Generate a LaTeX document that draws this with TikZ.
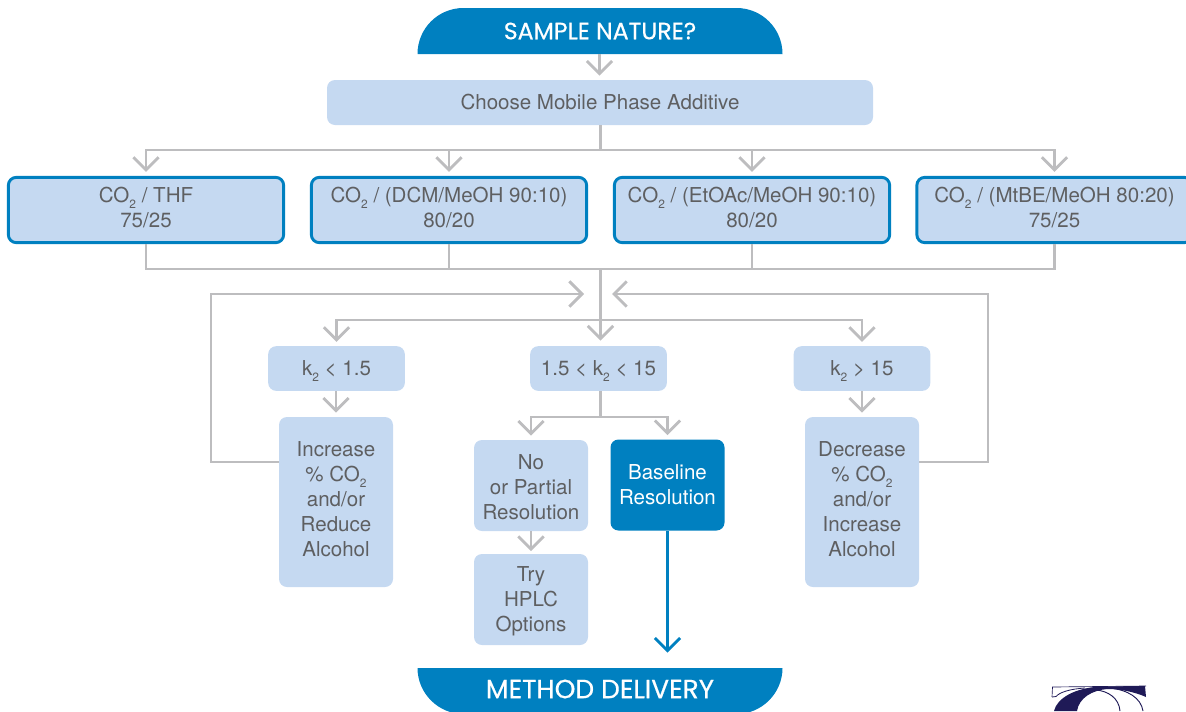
\documentclass[tikz,border=0pt]{standalone}
\usepackage{fontspec}
\setmainfont{TeX Gyre Heros}
\newfontfamily\capfont[FakeBold=0.5]{Poppins}
\usetikzlibrary{arrows.meta,calc}
\definecolor{pale}{HTML}{C5D9F1}
\definecolor{deep}{HTML}{0080C0}
\definecolor{wire}{HTML}{BDBDBF}
\definecolor{ink}{HTML}{5E5F61}
\definecolor{navy}{HTML}{1F1A57}
\newcommand{\subtwo}{\raisebox{-0.6ex}[0pt][0pt]{\fontsize{9pt}{9pt}\selectfont 2}}
\newcommand{\liftup}{\\[-14pt]\mbox{}}
\newcommand{\dropdown}{\mbox{}\\[-4.5pt]}
\tikzset{
 x=0.75pt,y=-0.75pt,
 box/.style={draw=none,fill=pale,rounded corners=6pt,text=ink,align=center,inner sep=0pt,
   font=\fontsize{15.4pt}{18.75pt}\selectfont},
 outlined/.style={box,draw=deep,line width=2.2pt,minimum width=206.5pt,minimum height=49pt},
 kbox/.style={box,minimum width=102.5pt,minimum height=33.5pt},
 tallbox/.style={box,minimum width=85.5pt,minimum height=127.5pt},
 midbox/.style={box,minimum width=85.5pt,minimum height=68.25pt},
 capnode/.style={text=white,inner sep=0pt,minimum width=273.75pt},
 wireline/.style={draw=wire,line width=2.15pt},
 arrowline/.style={wireline,-{Straight Barb[length=9.5pt,width=19pt,line width=2.15pt]},shorten >=3pt},
 deepline/.style={arrowline,draw=deep},
}
\begin{document}
\begin{tikzpicture}
\useasboundingbox (0,0) rectangle (1186,711);
\clip (0,0) rectangle (1186,711);
% caps
\fill[deep] (417.5,54) .. controls (417.5,28.6) and (438,8) .. (463.5,8) -- (736.5,8) .. controls (762,8) and (782.5,28.6) .. (782.5,54) -- cycle;
\fill[deep] (417.5,668) -- (782.5,668) .. controls (782.5,693) and (762,714) .. (736.5,714) -- (463.5,714) .. controls (438,714) and (417.5,693) .. (417.5,668) -- cycle;
\node[capnode,minimum height=34.5pt,font=\capfont\fontsize{17.7pt}{20pt}\selectfont] (top) at (600,31) {SAMPLE NATURE?};
\node[capnode,minimum height=32pt,font=\capfont\fontsize{19.8pt}{22pt}\selectfont] (bottom) at (600,689) {METHOD DELIVERY};
% boxes
\node[box,minimum width=409.5pt,minimum height=33.75pt] (choose) at (600,102.5) {Choose Mobile Phase Additive};
\node[outlined] (a) at (146,210) {CO\subtwo{} / THF\\75/25\liftup};
\node[outlined] (b) at (449,210) {CO\subtwo{} / (DCM/MeOH 90:10)\\80/20\liftup};
\node[outlined] (c) at (752,210) {CO\subtwo{} / (EtOAc/MeOH 90:10)\\80/20\liftup};
\node[outlined] (d) at (1054.5,210) {CO\subtwo{} / (MtBE/MeOH 80:20)\\75/25\liftup};
\node[kbox] (kl) at (336.5,368.5) {k\subtwo{} < 1.5};
\node[kbox] (km) at (598.5,368.5) {1.5 < k\subtwo{} < 15};
\node[kbox] (kh) at (862,368.5) {k\subtwo{} > 15};
\node[tallbox] (inc) at (336,502) {Increase\\\% CO\subtwo\\and/or\\Reduce\\Alcohol\liftup};
\node[tallbox] (dec) at (862,502) {Decrease\\\% CO\subtwo\\and/or\\Increase\\Alcohol\liftup};
\node[midbox] (no) at (531,485.5) {\dropdown No\\or Partial\\Resolution};
\node[midbox,fill=deep,text=white] (base) at (667.5,485) {Baseline\\Resolution};
\node[midbox] (try) at (531,599.5) {\dropdown Try\\HPLC\\Options};
% junctions
\coordinate (j1) at (600.5,150);
\coordinate (j2) at (600.5,269);
\coordinate (j3) at (600.5,320);
\coordinate (j4) at (600.5,417);
\coordinate (fbl) at (584,294);
\coordinate (fbr) at (612,294);
% connectors
\draw[arrowline] (top.south -| 599.5,0) -- (choose.north -| 599.5,0);
\draw[wireline] (choose.south -| j1) -- (j1);
\draw[arrowline] (j1) -| (a.north);
\draw[arrowline] (j1) -| (b.north);
\draw[arrowline] (j1) -| (c.north);
\draw[arrowline] (j1) -| (d.north);
\draw[wireline] (a.south) |- (j2);
\draw[wireline] (b.south) |- (j2);
\draw[wireline] (c.south) |- (j2);
\draw[wireline] (d.south) |- (j2);
\draw[arrowline,shorten >=4pt] (j2) -- (km.north -| j2);
\draw[arrowline] (j3) -| (kl.north);
\draw[arrowline] (j3) -| (kh.north);
\draw[arrowline,shorten >=0pt] (inc.west |- 0,462) -- (211,462) |- (fbl);
\draw[arrowline,shorten >=0pt] (dec.east |- 0,462) -- (988,462) |- (fbr);
\draw[arrowline] (kl.south -| inc.north) -- (inc.north);
\draw[arrowline] (kh.south) -- (dec.north);
\draw[wireline] (km.south -| j4) -- (j4);
\draw[arrowline] (j4) -| (no.north);
\draw[arrowline] (j4) -| (base.north);
\draw[arrowline,shorten >=2pt] (no.south) -- (try.north);
\draw[deepline,shorten >=11pt] (base.south) -- (bottom.north -| base.south);
% logo
\fill[navy] (1054,711) .. controls (1057,698) and (1075,688) .. (1100,686.5) -- (1145,686) -- (1146,697)
  .. controls (1135,692) and (1120,689) .. (1108,689) .. controls (1092,690) and (1079,698) .. (1077,711) -- cycle;
\draw[navy,line width=0.5pt] (1052,697) -- (1052.5,687) -- (1146,686);
\draw[navy,line width=0.6pt] (1052,697) -- (1056,696.5) .. controls (1060,692) and (1070,689) .. (1085,688);
\draw[navy,line width=0.7pt] (1120,711) .. controls (1119,698) and (1108,691) .. (1096,690);
\draw[navy,line width=0.7pt] (1143,711) .. controls (1141,698) and (1128,690) .. (1110,688);
\end{tikzpicture}
\end{document}
